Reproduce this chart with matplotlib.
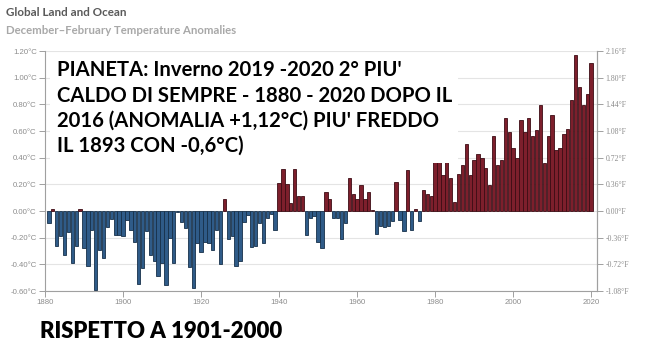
import matplotlib
matplotlib.use("Agg")
import matplotlib.pyplot as plt
import numpy as np

# ---- data (°C anomalies vs 1901-2000, Dec-Feb) ----
years = list(range(1881, 2021))
anomalies = [
    -0.09, 0.015, -0.26, -0.19, -0.33, -0.16, -0.39, -0.26, 0.015, -0.28,   # 1881-1890
    -0.41, -0.14, -0.59, -0.29, -0.35, -0.12, -0.06, -0.18, -0.18, -0.19,   # 1891-1900
    -0.07, -0.14, -0.23, -0.55, -0.43, -0.15, -0.33, -0.375, -0.49, -0.39,  # 1901-1910
    -0.555, -0.205, -0.39, -0.005, -0.085, -0.13, -0.42, -0.58, -0.24, -0.31,  # 1911-1920
    -0.23, -0.24, -0.29, -0.14, -0.40, 0.09, -0.21, -0.19, -0.41, -0.375,   # 1921-1930
    -0.08, -0.03, -0.27, -0.26, -0.09, -0.24, -0.05, -0.02, -0.14, 0.21,    # 1931-1940
    0.315, 0.20, 0.06, 0.315, 0.11, 0.115, -0.18, -0.055, -0.04, -0.23,     # 1941-1950
    -0.28, 0.145, 0.09, -0.05, -0.05, -0.21, -0.09, 0.245, 0.13, 0.09,      # 1951-1960
    0.195, 0.09, 0.14, 0.005, -0.17, -0.115, -0.12, -0.11, -0.075, 0.215,   # 1961-1970
    -0.07, -0.15, 0.31, -0.14, 0.015, -0.075, 0.16, 0.13, 0.11, 0.41,       # 1971-1980
    0.38, 0.27, 0.48, 0.245, 0.065, 0.28, 0.345, 0.50, 0.27, 0.38,          # 1981-1990
    0.425, 0.395, 0.325, 0.195, 0.56, 0.345, 0.38, 0.695, 0.595, 0.475,     # 1991-2000
    0.395, 0.68, 0.595, 0.695, 0.565, 0.61, 0.795, 0.36, 0.56, 0.72,        # 2001-2010
    0.46, 0.475, 0.58, 0.615, 0.83, 1.17, 0.93, 0.795, 0.88, 1.11,          # 2011-2020
]
c_ticks = [-0.6, -0.4, -0.2, 0.0, 0.2, 0.4, 0.6, 0.8, 1.0, 1.2]
x_ticks = [1880, 1900, 1920, 1940, 1960, 1980, 2000, 2020]

title1 = "Global Land and Ocean"
title2 = "December\u2013February Temperature Anomalies"
overlay_lines = [
    "PIANETA: Inverno 2019 -2020 2\u00b0 PIU'",
    "CALDO DI SEMPRE - 1880 - 2020 DOPO IL",
    "2016 (ANOMALIA +1,12\u00b0C) PIU' FREDDO",
    "IL 1893 CON -0,6\u00b0C)",
]
bottom_text = "RISPETTO A 1901-2000"

# ---- figure ----
W, H = 650, 360
fig = plt.figure(figsize=(W / 100, H / 100), dpi=100)
fig.patch.set_facecolor("white")

def px(x, y):
    return x / W, 1 - y / H

ax_l, ax_r, ax_t, ax_b = 45, 597, 51, 291
ax = fig.add_axes([ax_l / W, 1 - ax_b / H, (ax_r - ax_l) / W, (ax_b - ax_t) / H])

vals = np.array(anomalies)
colors = np.where(vals >= 0, "#7d1f2c", "#2f5b88")
edges = np.where(vals >= 0, "#3d0c14", "#17304a")
ax.bar(years, vals, width=0.86, color=colors, edgecolor=edges, linewidth=0.6, zorder=3)

ax.set_xlim(1880, 2021.5)
ax.set_ylim(-0.6, 1.2)
ax.set_yticks(c_ticks)
ax.set_yticklabels([f"{v:.2f}\u00b0C" for v in c_ticks])
ax.set_xticks(x_ticks)
ax.set_xticklabels([str(v) for v in x_ticks])
ax.grid(axis="y", color="#e4e4e4", linewidth=0.8, zorder=0)
ax.set_axisbelow(True)

spine_col = "#a0a0a0"
ax.spines["top"].set_visible(False)
for s in ["left", "right", "bottom"]:
    ax.spines[s].set_color(spine_col)
    ax.spines[s].set_linewidth(0.8)

ax.tick_params(axis="both", colors=spine_col, length=4, width=0.7, labelcolor="#8c8c8c",
               labelsize=5.6, pad=2)
for lab in ax.get_xticklabels() + ax.get_yticklabels():
    lab.set_family("Liberation Sans")

ax2 = ax.twinx()
ax2.set_ylim(-0.6, 1.2)
ax2.set_yticks(c_ticks)
ax2.set_yticklabels([f"{v * 1.8:.2f}\u00b0F" for v in c_ticks])
ax2.tick_params(axis="y", colors=spine_col, length=4, width=0.7, labelcolor="#8c8c8c",
                labelsize=5.6, pad=2)
for lab in ax2.get_yticklabels():
    lab.set_family("Liberation Serif")
for s in ["top", "left", "bottom"]:
    ax2.spines[s].set_visible(False)
ax2.spines["right"].set_color(spine_col)
ax2.spines["right"].set_linewidth(0.8)

# ---- texts ----
fig.canvas.draw()
renderer = fig.canvas.get_renderer()

def fit_size(s, target_w, **kw):
    t = fig.text(0, 0, s, fontsize=10, **kw)
    w = t.get_window_extent(renderer).width
    t.remove()
    return 10 * target_w / w

def fit_text(x, y, s, target_w, **kw):
    fs = fit_size(s, target_w, **kw)
    return fig.text(*px(x, y), s, fontsize=fs, **kw)

fit_text(6, 12, title1, 120, family="Lato", weight="bold",
         color="#5a5a5a", va="center", ha="left")
fit_text(6, 30, title2, 231, family="Lato", weight="bold",
         color="#a8a8a8", va="center", ha="left")

# white panel behind overlay text
panel = plt.Rectangle(px(50, 163), 408 / W, 110 / H, transform=fig.transFigure,
                      facecolor="white", edgecolor="none", zorder=5)
fig.add_artist(panel)

ov_kw = dict(family="Lato", weight="bold", color="black", va="center", ha="left")
ov_fs = fit_size(overlay_lines[1], 395, **ov_kw)
line_y = [70, 96, 121, 146]
for s, y in zip(overlay_lines, line_y):
    t = fig.text(*px(57, y), s, fontsize=ov_fs, **ov_kw)
    t.set_zorder(6)

fit_text(40, 331, bottom_text, 242, family="Lato", weight="heavy",
         color="black", va="center", ha="left")

fig.savefig("out.png", dpi=100, facecolor="white")
